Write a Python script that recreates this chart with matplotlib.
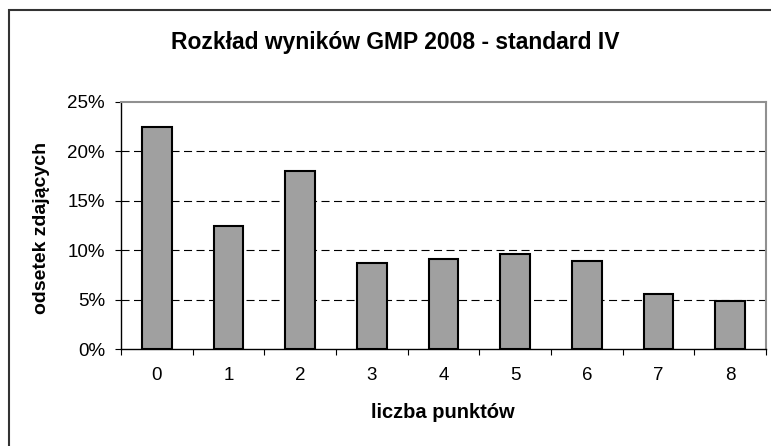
import matplotlib
matplotlib.use("Agg")
import matplotlib.pyplot as plt
from matplotlib.patches import Rectangle
import numpy as np

categories = ["0", "1", "2", "3", "4", "5", "6", "7", "8"]
values = [22.5, 12.4, 18.0, 8.7, 9.1, 9.6, 8.9, 5.6, 4.9]
yticks = [0, 5, 10, 15, 20, 25]
ytick_labels = ["0%", "5%", "10%", "15%", "20%", "25%"]
title = "Rozkład wyników GMP 2008 - standard IV"
xlabel = "liczba punktów"
ylabel = "odsetek zdających"

plt.rcParams['font.family'] = ['Liberation Sans', 'DejaVu Sans']
plt.rcParams['lines.scale_dashes'] = False

W, H = 771, 446
fig = plt.figure(figsize=(W / 100, H / 100), dpi=100)

# outer chart frame
fig.patches.append(Rectangle((9 / W, -0.05), 1.1, 1 - 10 / H + 0.05,
                             transform=fig.transFigure, fill=False,
                             edgecolor='#333333', linewidth=1.5))

ax = fig.add_axes([121 / W, 1 - 349 / H, (766 - 121) / W, (349 - 102) / H])
x = np.arange(len(categories))
ax.bar(x, values, width=0.41, color='#A0A0A0', edgecolor='black',
       linewidth=1.5, zorder=3)

ax.set_xlim(-0.5, len(categories) - 0.5)
ax.set_ylim(0, 25)

for y in yticks[1:-1]:
    ax.axhline(y, color='black', linewidth=0.8, linestyle=(0, (5.8, 3.2)), zorder=1)

ax.set_yticks(yticks)
ax.set_yticklabels(ytick_labels, fontsize=13.5)
ax.set_xticks(x)
ax.set_xticklabels(categories, fontsize=13.5)
ax.tick_params(axis='x', which='major', length=0, pad=13)
ax.set_xticks(np.arange(-0.5, len(categories), 1), minor=True)
ax.tick_params(axis='x', which='minor', length=4, direction='out', width=0.8)
ax.tick_params(axis='y', length=4, direction='out', width=0.8, pad=7.5)

for s in ['left', 'bottom']:
    ax.spines[s].set_color('black')
    ax.spines[s].set_linewidth(1.0)
for s in ['top', 'right']:
    ax.spines[s].set_color('#909090')
    ax.spines[s].set_linewidth(1.5)

fig.text(395 / W, 1 - 42 / H, title, ha='center', va='center',
         fontsize=16.5, fontweight='bold')
fig.text(443 / W, 1 - 412 / H, xlabel, ha='center', va='center',
         fontsize=14.5, fontweight='bold')
fig.text(42 / W, 1 - 228 / H, ylabel, ha='center', va='center',
         rotation=90, fontsize=14, fontweight='bold')

fig.savefig("out.png", dpi=100)
